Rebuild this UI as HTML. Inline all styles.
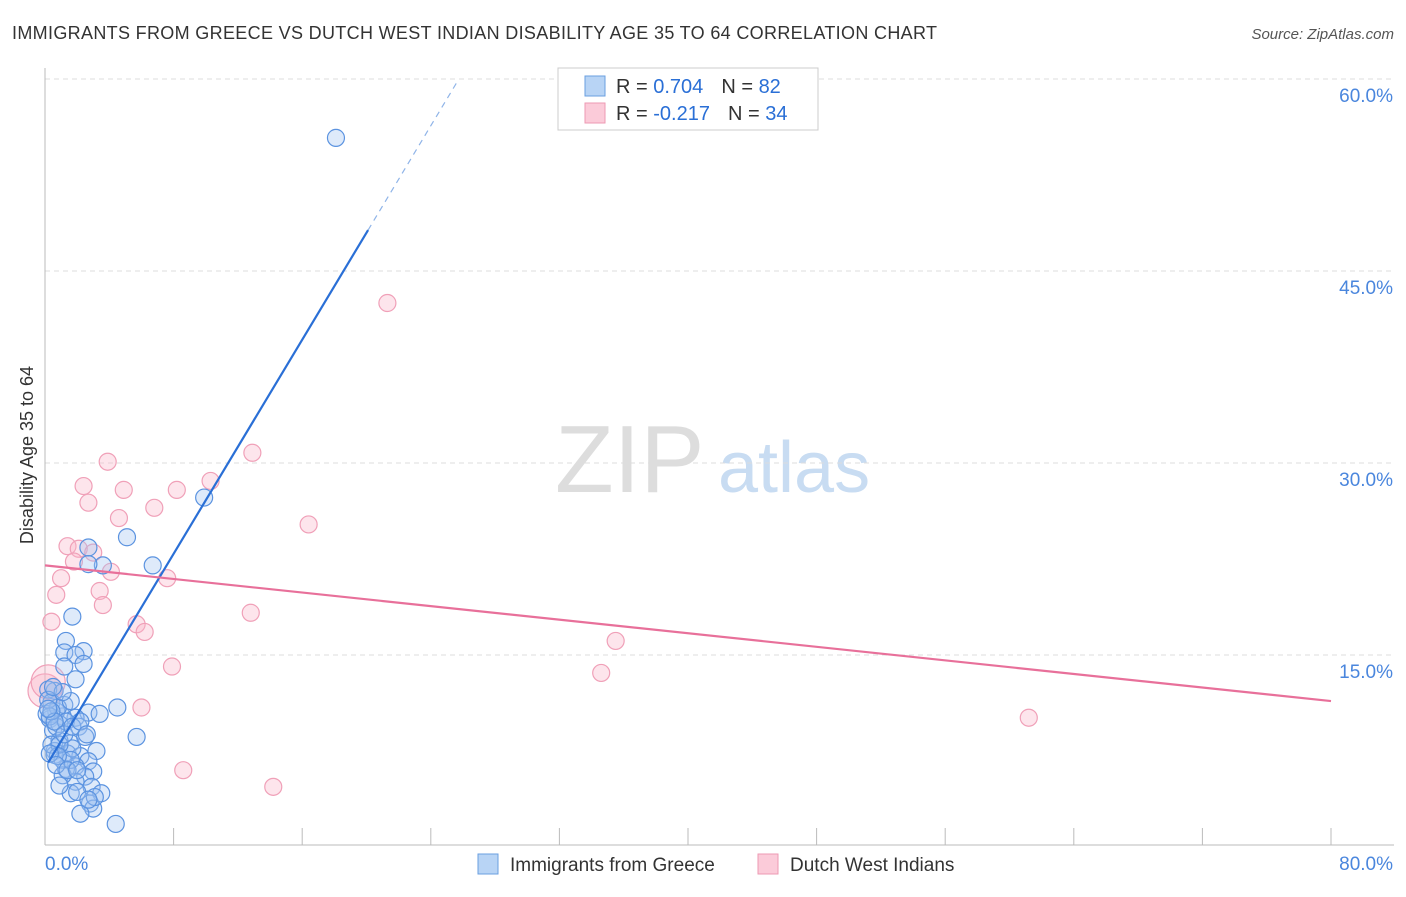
<!DOCTYPE html>
<html><head><meta charset="utf-8"><style>
body{margin:0;background:#fff;font-family:"Liberation Sans",sans-serif;}
svg text{font-family:"Liberation Sans",sans-serif;}
</style></head><body>
<svg width="1406" height="892">
<text x="12" y="39" font-size="18" fill="#333" textLength="925">IMMIGRANTS FROM GREECE VS DUTCH WEST INDIAN DISABILITY AGE 35 TO 64 CORRELATION CHART</text>
<text x="1394" y="39" font-size="15" fill="#555" font-style="italic" text-anchor="end">Source: ZipAtlas.com</text>
<text x="0" y="0" font-size="18" fill="#333" transform="translate(33,455) rotate(-90)" text-anchor="middle">Disability Age 35 to 64</text>
<text x="555" y="492" font-size="96" fill="#ddd" font-family="Liberation Serif">ZIP</text>
<text x="718" y="492" font-size="72" fill="#c8dcf2">atlas</text>
<g id="grid"></g><g id="axes"></g><g id="pts"></g><g id="lines"></g>
<rect x="558" y="68" width="260" height="62" fill="#fff" stroke="#ccc"/>
<rect x="585" y="76" width="20" height="20" fill="#b8d4f5" stroke="#6a9fe0"/>
<rect x="585" y="103" width="20" height="20" fill="#fbcbd9" stroke="#ee9ab3"/>
<text x="616" y="93" font-size="20" fill="#333">R = <tspan fill="#2a6fd6">0.704</tspan><tspan dx="18">N = </tspan><tspan fill="#2a6fd6">82</tspan></text>
<text x="616" y="120" font-size="20" fill="#333">R = <tspan fill="#2a6fd6">-0.217</tspan><tspan dx="18">N = </tspan><tspan fill="#2a6fd6">34</tspan></text>
<rect x="478" y="854" width="20" height="20" fill="#b8d4f5" stroke="#6a9fe0"/>
<text x="510" y="871" font-size="19" fill="#333">Immigrants from Greece</text>
<rect x="758" y="854" width="20" height="20" fill="#fbcbd9" stroke="#ee9ab3"/>
<text x="790" y="871" font-size="19" fill="#333">Dutch West Indians</text>
</svg>
<script>
const yTicks=[15,30,45,60];
const xTickLabels=["0.0%","80.0%"];
const blueX=[18.1,9.9,5.1,6.7,2.7,3.6,2.7,1.7,1.3,2.4,1.2,1.9,1.2,2.4,1.9,0.6,0.2,0.4,2.7,3.4,4.5,5.7,3.2,1.9,1.1,0.3,0.7,1.2,0.5,1.6,0.9,0.6,1.4,2.2,2.7,1.9,1.3,3.0,2.5,1.9,1.6,2.9,3.5,2.8,3.0,2.2,4.4,0.6,0.4,0.9,0.1,0.8,1.1,1.7,0.2,0.3,0.7,1.3,2.1,2.5,1.1,1.6,0.4,0.6,0.2,0.9,1.2,0.8,1.7,2.2,1.6,1.1,0.5,0.3,0.7,1.4,2.0,3.1,0.9,2.0,2.7,2.6];
const blueY=[55.4,27.3,24.2,22.0,23.4,22.0,22.1,18.0,16.1,15.3,15.2,15.0,14.1,14.3,13.1,12.2,12.3,11.3,10.5,10.4,10.9,8.6,7.5,10.1,10.2,10.0,10.6,11.1,9.1,8.1,8.3,7.5,7.3,7.1,6.7,6.3,6.1,5.9,5.5,5.1,4.2,4.7,4.2,3.4,3.0,2.6,1.8,7.2,8.0,9.6,10.4,10.9,6.8,7.7,11.5,10.2,9.4,9.8,9.4,8.6,5.6,6.8,10.6,9.8,10.8,8.0,8.8,7.1,9.4,9.8,11.4,12.1,12.5,7.3,6.4,6.0,6.0,3.9,4.8,4.3,3.7,8.8];
const pinkX=[21.3,12.9,3.9,10.3,2.4,4.9,8.2,2.7,6.8,4.6,16.4,1.4,2.1,3.0,1.8,4.1,7.6,1.0,0.7,3.4,3.6,0.4,12.8,5.7,6.2,35.5,7.9,34.6,6.0,61.2,8.6,14.2,0.0,0.2];
const pinkY=[42.5,30.8,30.1,28.6,28.2,27.9,27.9,26.9,26.5,25.7,25.2,23.5,23.3,23.0,22.3,21.5,21.0,21.0,19.7,20.0,18.9,17.6,18.3,17.4,16.8,16.1,14.1,13.6,10.9,10.1,6.0,4.7,12.2,12.9];
const blueLine=[[0.2,6.6],[20.1,48.2],[25.7,59.9]];
const pinkLine=[[0,22.0],[80,11.4]];
const X=v=>45+v*16.075, Y=v=>847-v*12.8;
const NS="http://www.w3.org/2000/svg";
function mk(t,a,p){const e=document.createElementNS(NS,t);for(const k in a)e.setAttribute(k,a[k]);p.appendChild(e);return e;}
const grid=document.getElementById('grid'),axes=document.getElementById('axes');
yTicks.forEach(t=>{
 const l=mk('line',{x1:45,x2:1394,y1:Y(t),y2:Y(t),stroke:'#ddd','stroke-dasharray':'5,4'},grid);
 
 
 const tx=mk('text',{x:1393,y:Y(t)+23,'font-size':19,fill:'#4a86dd','text-anchor':'end'},grid);
 tx.textContent=t.toFixed(1)+'%';
 
 
});
const ax=mk('line',{x1:45,x2:1394,y1:845,y2:845,stroke:'#bbb'},axes);


const ay=mk('line',{x1:45,x2:45,y1:68,y2:845,stroke:'#bbb'},axes);


for(let i=1;i<=10;i++){const v=i*8;
 const t=mk('line',{x1:X(v),x2:X(v),y1:828,y2:845,stroke:'#bbb'},axes);
 
 }
xTickLabels.forEach((s,i)=>{
 const t=mk('text',{x:i?1393:45,y:870,'font-size':19,fill:'#4a86dd','text-anchor':i?'end':'start'},axes);
 t.textContent=s;
 
 
});
const pts=document.getElementById('pts');
pinkX.forEach((x,i)=>{
 const c=mk('circle',{cx:X(x),cy:Y(pinkY[i]),r:i>=32?17:8.5,fill:'rgba(248,180,200,0.35)',stroke:'#f0a0b8','stroke-width':1.2},pts);
 
 
});
blueX.forEach((x,i)=>{
 const c=mk('circle',{cx:X(x),cy:Y(blueY[i]),r:8.5,fill:'rgba(160,196,240,0.35)',stroke:'#5b93e0','stroke-width':1.2},pts);
 
 
});
const lines=document.getElementById('lines');
const b1=mk('line',{x1:X(blueLine[0][0]),y1:Y(blueLine[0][1]),x2:X(blueLine[1][0]),y2:Y(blueLine[1][1]),stroke:'#2a6fd6','stroke-width':2.2},lines);


const b2=mk('line',{x1:X(blueLine[1][0]),y1:Y(blueLine[1][1]),x2:X(blueLine[2][0]),y2:Y(blueLine[2][1]),stroke:'#8fb4e8','stroke-width':1.2,'stroke-dasharray':'6,5'},lines);


const p1=mk('line',{x1:X(pinkLine[0][0]),y1:Y(pinkLine[0][1]),x2:X(pinkLine[1][0]),y2:Y(pinkLine[1][1]),stroke:'#e8709a','stroke-width':2.2},lines);


</script>
</body></html>
